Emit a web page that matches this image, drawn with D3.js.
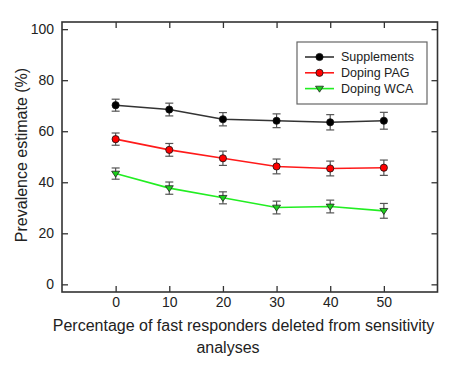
<!DOCTYPE html>
<html>
<head>
<meta charset="utf-8">
<script src="https://cdn.jsdelivr.net/npm/d3@7"></script>
<style>
  body { margin: 0; background: #fff; }
  svg { display: block; font-family: "Liberation Sans", Arial, sans-serif; }
</style>
</head>
<body>
<svg width="455" height="369"></svg>
<script>
// data
var xValues = [0, 10, 20, 30, 40, 50];
var supplements = [70.2, 68.5, 64.7, 64.1, 63.5, 64.1];
var supplementsErr = [2.35, 2.5, 2.6, 2.7, 3.0, 3.3];
var dopingPAG = [56.9, 52.7, 49.4, 46.2, 45.4, 45.7];
var dopingPAGErr = [2.4, 2.5, 2.8, 2.9, 2.9, 3.0];
var dopingWCA = [43.4, 37.7, 33.9, 30.1, 30.5, 28.8];
var dopingWCAErr = [2.2, 2.4, 2.35, 2.5, 2.5, 2.9];
var yTicks = [0, 20, 40, 60, 80, 100];
var seriesNames = ['Supplements', 'Doping PAG', 'Doping WCA'];

var svg = d3.select('svg');
// plot box
var plotLeft = 62, plotRight = 437.5, plotTop = 22, plotBottom = 292;

var x = d3.scaleLinear().domain([-10, 60]).range([plotLeft, plotRight]);
var y = d3.scaleLinear().domain([-3, 102.8]).range([plotBottom, plotTop]);

var series = [
  {name: seriesNames[0], values: supplements, err: supplementsErr, line: '#333', fill: '#000', shape: 'circle'},
  {name: seriesNames[1], values: dopingPAG, err: dopingPAGErr, line: '#ff1a1a', fill: '#f00', shape: 'circle'},
  {name: seriesNames[2], values: dopingWCA, err: dopingWCAErr, line: '#22ee22', fill: '#1ccf1c', shape: 'tri'}
];

// axes, ticks pointing in on all four sides
var axisColor = '#333';
function styleAxis(g) {
  g.select('.domain').remove();
  g.selectAll('.tick line').attr('stroke', axisColor).attr('stroke-width', 1.3);
  g.selectAll('.tick text').attr('fill', '#222').style('font-size', '14px');
}
svg.append('g').attr('transform', 'translate(' + plotLeft + ',0)')
  .call(d3.axisLeft(y).tickValues(yTicks).tickSizeInner(-6).tickPadding(8))
  .call(styleAxis);
svg.append('g').attr('transform', 'translate(' + plotRight + ',0)')
  .call(d3.axisRight(y).tickValues(yTicks).tickSizeInner(-6).tickFormat(''))
  .call(styleAxis);
svg.append('g').attr('transform', 'translate(0,' + plotBottom + ')')
  .call(d3.axisBottom(x).tickValues(xValues).tickSizeInner(-6).tickPadding(5))
  .call(styleAxis);
svg.append('g').attr('transform', 'translate(0,' + plotTop + ')')
  .call(d3.axisTop(x).tickValues(xValues).tickSizeInner(-6).tickFormat(''))
  .call(styleAxis);

svg.append('rect')
  .attr('x', plotLeft).attr('y', plotTop)
  .attr('width', plotRight - plotLeft).attr('height', plotBottom - plotTop)
  .attr('fill', 'none').attr('stroke', axisColor).attr('stroke-width', 1.6);

// axis titles
svg.append('text')
  .attr('transform', 'translate(21,155) rotate(-90)')
  .attr('text-anchor', 'middle').attr('dominant-baseline', 'central')
  .style('font-size', '16px').attr('fill', '#222')
  .text('Prevalence estimate (%)');
svg.append('text')
  .attr('x', 243.5).attr('y', 331)
  .attr('text-anchor', 'middle')
  .style('font-size', '16px').attr('fill', '#222')
  .text('Percentage of fast responders deleted from sensitivity');
svg.append('text')
  .attr('x', 228).attr('y', 353)
  .attr('text-anchor', 'middle')
  .style('font-size', '16px').attr('fill', '#222')
  .text('analyses');

var line = d3.line()
  .x(function(d, i) { return x(xValues[i]); })
  .y(function(d) { return y(d); });

function drawMarker(g, s, cx, cy) {
  if (s.shape === 'circle') {
    g.append('circle').attr('cx', cx).attr('cy', cy).attr('r', 3.6)
      .attr('fill', s.fill).attr('stroke', '#111').attr('stroke-width', 0.8);
  } else {
    var r = 4;
    g.append('path')
      .attr('d', 'M' + (cx - r) + ',' + (cy - r * 0.6) + 'L' + (cx + r) + ',' + (cy - r * 0.6) + 'L' + cx + ',' + (cy + r * 0.9) + 'Z')
      .attr('fill', s.fill).attr('stroke', '#222').attr('stroke-width', 0.8);
  }
}

series.forEach(function(s) {
  var g = svg.append('g');
  g.append('path').datum(s.values)
    .attr('d', line).attr('fill', 'none')
    .attr('stroke', s.line).attr('stroke-width', 1.6);
  // error bars
  s.values.forEach(function(v, i) {
    var cx = x(xValues[i]);
    var y1 = y(v + s.err[i]), y2 = y(v - s.err[i]);
    var eb = g.append('g').attr('stroke', '#555').attr('stroke-width', 1.2);
    eb.append('line').attr('x1', cx).attr('x2', cx).attr('y1', y1).attr('y2', y2);
    eb.append('line').attr('x1', cx - 4).attr('x2', cx + 4).attr('y1', y1).attr('y2', y1);
    eb.append('line').attr('x1', cx - 4).attr('x2', cx + 4).attr('y1', y2).attr('y2', y2);
  });
  s.values.forEach(function(v, i) {
    drawMarker(g, s, x(xValues[i]), y(v));
  });
});

// legend
var legend = svg.append('g');
legend.append('rect')
  .attr('x', 297).attr('y', 42).attr('width', 130).attr('height', 62)
  .attr('fill', '#fff').attr('stroke', '#666').attr('stroke-width', 1.2);
series.forEach(function(s, i) {
  var ly = 57 + i * 15.8;
  legend.append('line').attr('x1', 305).attr('x2', 334).attr('y1', ly).attr('y2', ly)
    .attr('stroke', s.line).attr('stroke-width', 1.6);
  drawMarker(legend, s, 319.5, ly);
  legend.append('text').attr('x', 341).attr('y', ly)
    .attr('dominant-baseline', 'central')
    .style('font-size', '12.5px').attr('fill', '#222')
    .text(s.name);
});
</script>
</body>
</html>
